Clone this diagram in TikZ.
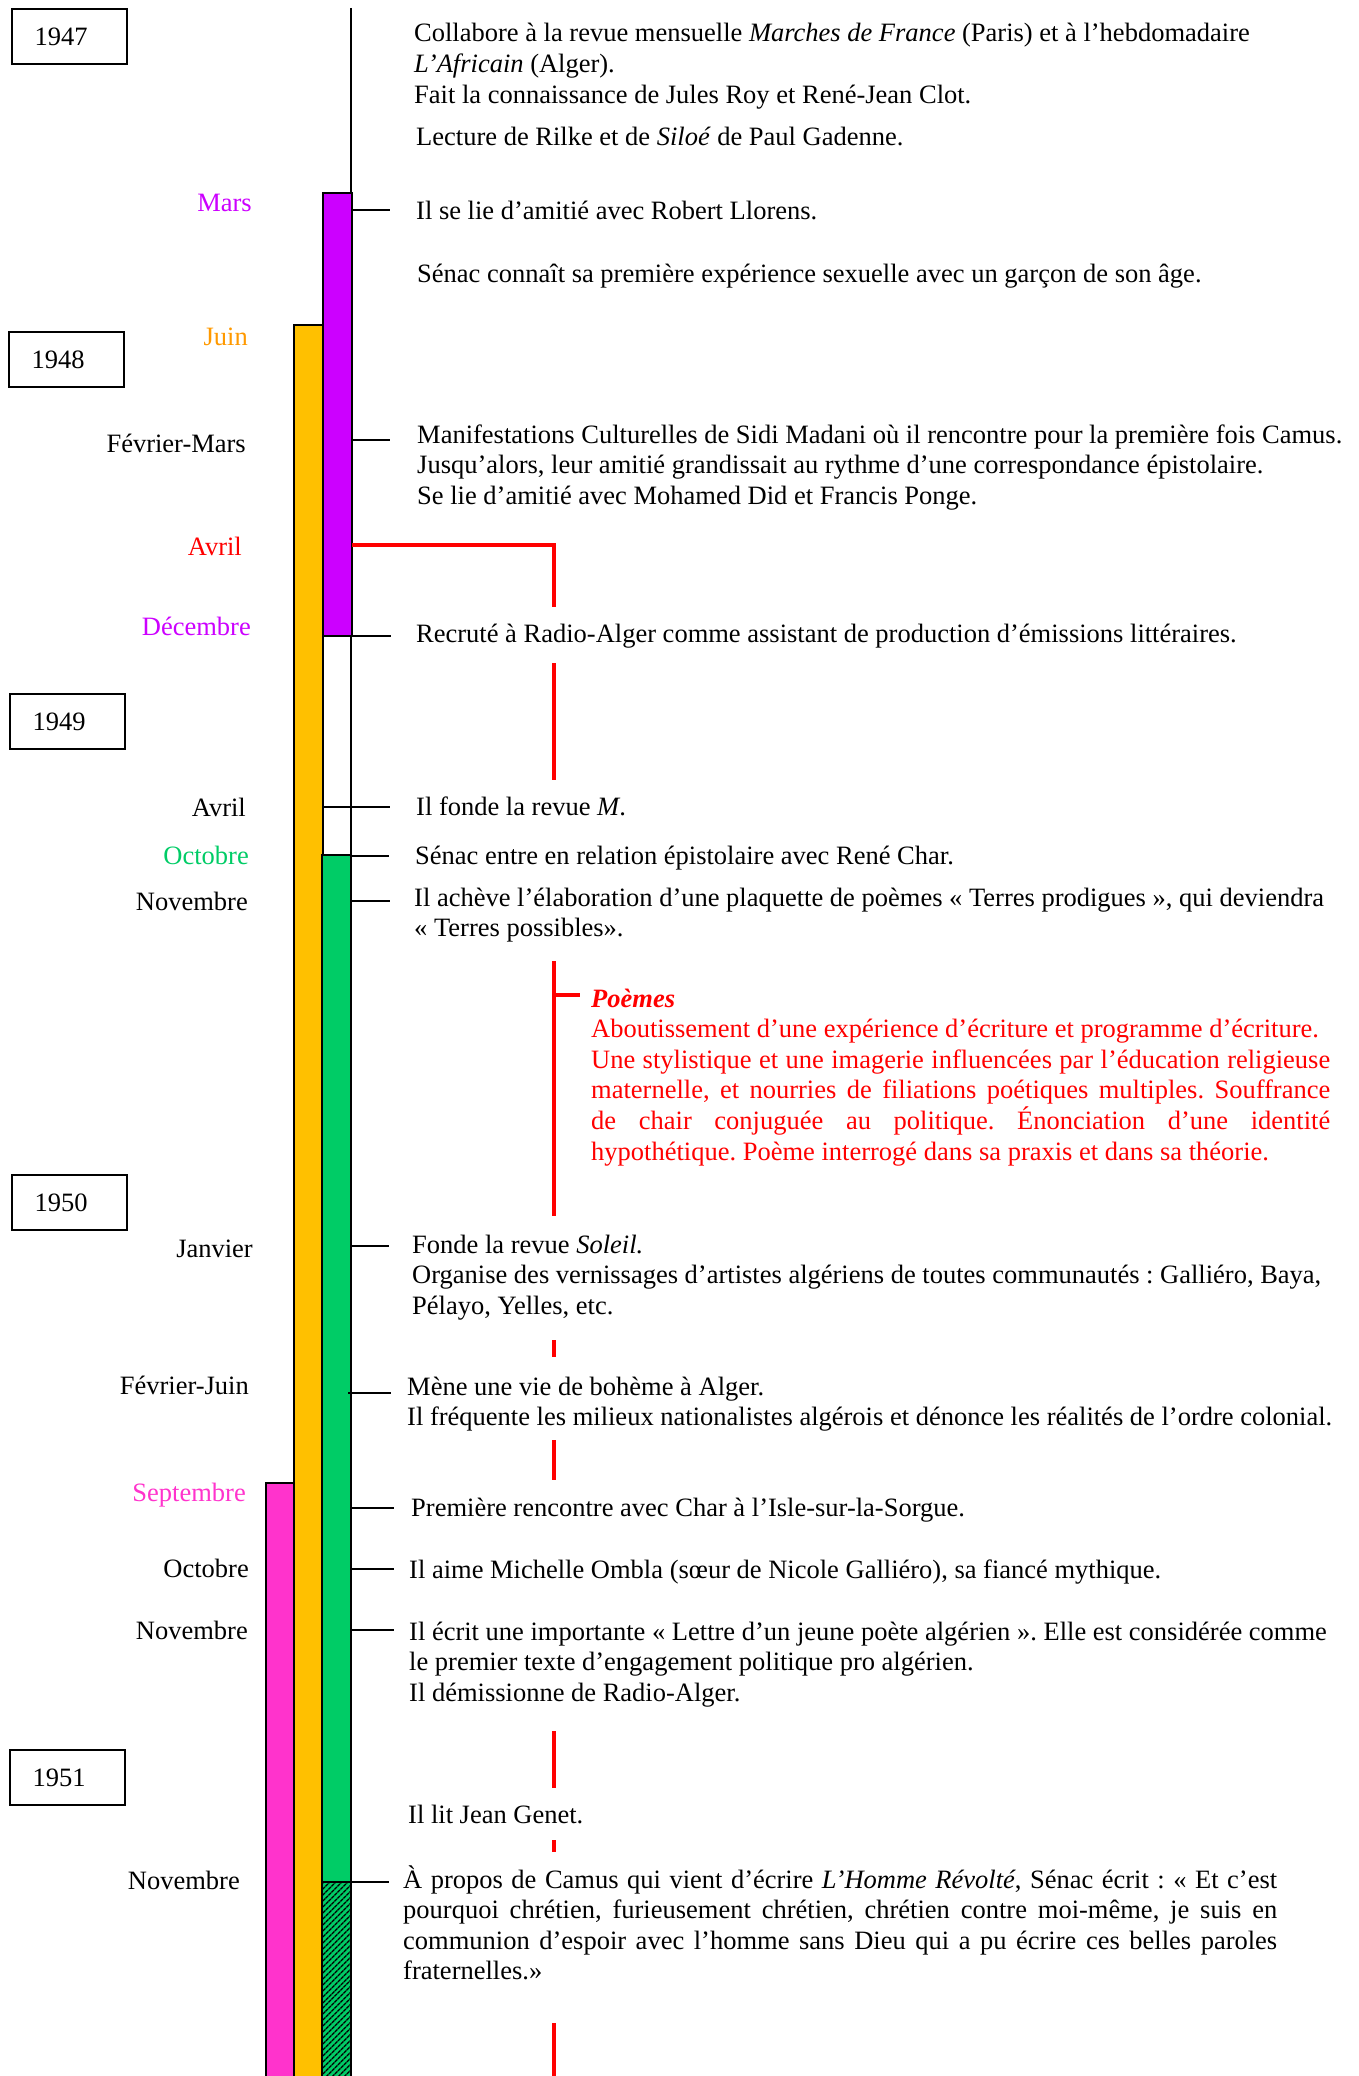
\documentclass[tikz,border=0pt]{standalone}
\usepackage{fontspec}
\setmainfont{Liberation Serif}
\usetikzlibrary{patterns.meta}
\definecolor{cpurple}{HTML}{CC00FF}
\definecolor{corange}{HTML}{FFC000}
\definecolor{cgreen}{HTML}{00CC66}
\definecolor{cpink}{HTML}{FF33CC}
\definecolor{corangetxt}{HTML}{FF9900}
\definecolor{cred}{HTML}{FF0000}
\frenchspacing
\begin{document}
\begin{tikzpicture}[x=1pt,y=-1pt,
  font=\fontsize{26.5}{30.6}\selectfont,
  evt/.style={anchor=base west, inner sep=0pt, text width=960pt, align=justify},
  just/.style={anchor=base west, inner sep=0pt, align=justify},
  month/.style={anchor=base east, inner sep=0pt},
  yearbox/.style={draw, line width=2pt, anchor=north west, minimum width=115pt,
     minimum height=55pt, inner xsep=22pt, inner ysep=0pt, text width=70pt, align=justify},
  bar/.style={draw=black, line width=2.2pt},
  tick/.style={draw=black, line width=2pt},
  redline/.style={draw=cred, line width=4pt}]
\useasboundingbox (0,0) rectangle (1359,2076);

% ---- bars ----
\draw[tick] (351,8) -- (351,193);
\draw[bar, fill=cpink] (266,1483) rectangle (294,2090);
\draw[bar, fill=corange] (294,325) rectangle (323,2090);
\draw[bar, fill=cpurple] (323,193) rectangle (352,636);
\draw[bar, fill=white] (323,636) rectangle (351,855);
\draw[bar, fill=cgreen] (322,855) rectangle (351,1882);
\fill[cgreen] (322,1882) rectangle (351,2090);
\fill[pattern={Lines[angle=45,distance=4pt,line width=1.5pt]}, pattern color=black] (322,1882) rectangle (351,2090);
\draw[bar] (322,1882) rectangle (351,2090);

% ---- year boxes ----
\node[yearbox] (y47) at (11,8) {1947};
\node[yearbox] (y48) at (8,331) {1948};
\node[yearbox] (y49) at (9,693) {1949};
\node[yearbox] (y50) at (11,1174) {1950};
\node[yearbox] (y51) at (9,1749) {1951};

% ---- month labels ----
\node[month, text=cpurple] (m1) at (252,212) {Mars};
\node[month, text=corangetxt] (m2) at (248,345) {Juin};
\node[month] (m3) at (246,452) {Février-Mars};
\node[month, text=cred] (m4) at (242,555) {Avril};
\node[month, text=cpurple] (m5) at (251,635) {Décembre};
\node[month] (m6) at (246,816) {Avril};
\node[month, text=cgreen] (m7) at (249,864) {Octobre};
\node[month] (m8) at (248,910) {Novembre};
\node[month] (m9) at (253,1257) {Janvier};
\node[month] (m10) at (249,1394) {Février-Juin};
\node[month, text=cpink] (m11) at (246,1501) {Septembre};
\node[month] (m12) at (249,1577) {Octobre};
\node[month] (m13) at (248,1639) {Novembre};
\node[month] (m14) at (240,1889) {Novembre};

% ---- ticks ----
\draw[tick] (351,210) -- (390,210);
\draw[tick] (351,440) -- (390,440);
\draw[tick] (351,636) -- (391,636);
\draw[tick] (323,807) -- (390,807);
\draw[tick] (351,856) -- (389,856);
\draw[tick] (351,901) -- (390,901);
\draw[tick] (351,1246) -- (389,1246);
\draw[tick] (348,1393) -- (391,1393);
\draw[tick] (351,1508) -- (394,1508);
\draw[tick] (351,1569) -- (394,1569);
\draw[tick] (351,1630) -- (394,1630);
\draw[tick] (351,1882) -- (389,1882);

% ---- red connector ----
\draw[redline] (352,545) -- (554,545) -- (554,607);
\draw[redline] (554,663) -- (554,780);
\draw[redline] (554,961) -- (554,1216);
\draw[redline] (554,995) -- (580,995);
\draw[redline] (554,1340) -- (554,1357);
\draw[redline] (554,1440) -- (554,1480);
\draw[redline] (554,1731) -- (554,1788);
\draw[redline] (554,1840) -- (554,1852);
\draw[redline] (554,2023) -- (554,2090);

% ---- events ----
\node[evt] (e1) at (414,42) {Collabore à la revue mensuelle \textit{Marches de France} (Paris) et à l’hebdomadaire\\ \textit{L’Africain} (Alger).\\ Fait la connaissance de Jules Roy et René-Jean Clot.};
\node[evt] (e2) at (416,146) {Lecture de Rilke et de \textit{Siloé} de Paul Gadenne.};
\node[evt] (e3) at (416,220) {Il se lie d’amitié avec Robert Llorens.};
\node[evt] (e4) at (417,282) {Sénac connaît sa première expérience sexuelle avec un garçon de son âge.};
\node[evt] (e5) at (417,443) {Manifestations Culturelles de Sidi Madani où il rencontre pour la première fois Camus.\\ Jusqu’alors, leur amitié grandissait au rythme d’une correspondance épistolaire.\\ Se lie d’amitié avec Mohamed Did et Francis Ponge.};
\node[evt] (e6) at (416,642) {Recruté à Radio-Alger comme assistant de production d’émissions littéraires.};
\node[evt] (e7) at (416,815) {Il fonde la revue \textit{M}.};
\node[evt] (e8) at (415,864) {Sénac entre en relation épistolaire avec René Char.};
\node[evt] (e9) at (414,906) {Il achève l’élaboration d’une plaquette de poèmes « Terres prodigues », qui deviendra\\ « Terres possibles».};
\node[just, text width=739pt, text=cred] (poemes) at (591,1007) {\textbf{\textit{Poèmes}}\\ Aboutissement d’une expérience d’écriture et programme d’écriture.\par
Une stylistique et une imagerie influencées par l’éducation religieuse\linebreak maternelle, et nourries de filiations poétiques multiples. Souffrance\linebreak de chair conjuguée au politique. Énonciation d’une identité\linebreak hypothétique. Poème interrogé dans sa praxis et dans sa théorie.};
\node[evt] (e10) at (412,1253) {Fonde la revue \textit{Soleil.}\\ Organise des vernissages d’artistes algériens de toutes communautés : Galliéro, Baya,\\ Pélayo, Yelles, etc.};
\node[evt] (e11) at (407,1395) {Mène une vie de bohème à Alger.\\ Il fréquente les milieux nationalistes algérois et dénonce les réalités de l’ordre colonial.};
\node[evt] (e12) at (411,1516) {Première rencontre avec Char à l’Isle-sur-la-Sorgue.};
\node[evt] (e13) at (409,1578) {Il aime Michelle Ombla (sœur de Nicole Galliéro), sa fiancé mythique.};
\node[evt] (e14) at (409,1640) {Il écrit une importante « Lettre d’un jeune poète algérien ». Elle est considérée comme\\ le premier texte d’engagement politique pro algérien.\\ Il démissionne de Radio-Alger.};
\node[evt] (e15) at (408,1823) {Il lit Jean Genet.};
\node[just, text width=874pt] (e16) at (403,1888) {À propos de Camus qui vient d’écrire \textit{L’Homme Révolté}, Sénac écrit : « Et c’est\linebreak pourquoi chrétien, furieusement chrétien, chrétien contre moi-même, je suis en\linebreak communion d’espoir avec l’homme sans Dieu qui a pu écrire ces belles paroles\linebreak fraternelles.»};
\end{tikzpicture}
\end{document}
